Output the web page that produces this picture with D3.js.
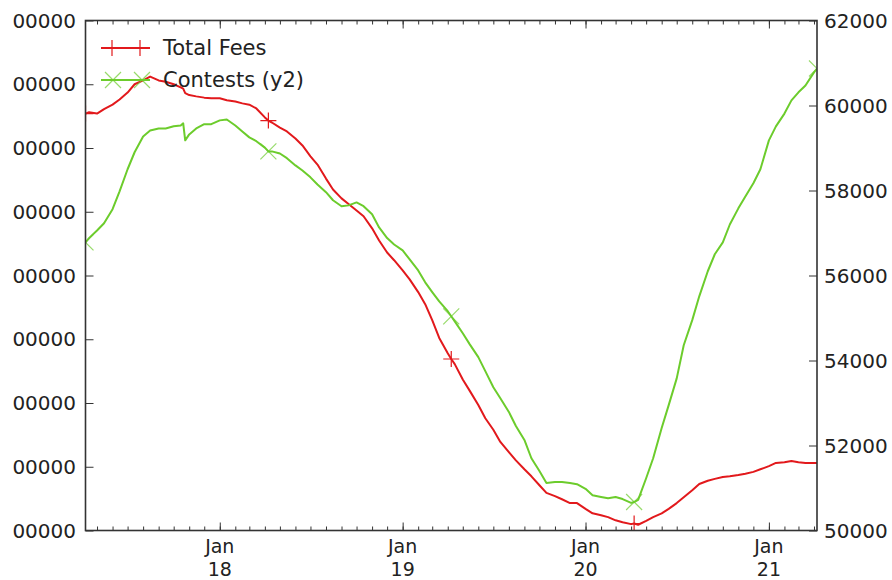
<!DOCTYPE html>
<html>
<head>
<meta charset="utf-8">
<script src="https://cdn.jsdelivr.net/npm/d3@7"></script>
<style>
  body { margin: 0; background: #fff; }
  text { font-family: "DejaVu Sans", sans-serif; fill: #222; }
</style>
</head>
<body>
<script>
// dates (semi-monthly readings, plus the marker dates)
var dates = [
  "2017-04-08","2017-04-15","2017-05-01","2017-05-15","2017-06-01","2017-06-15","2017-07-01","2017-07-15",
  "2017-08-01","2017-08-15","2017-09-01","2017-09-15","2017-10-01","2017-10-15","2017-10-20","2017-10-24",
  "2017-11-01","2017-11-15","2017-12-01","2017-12-15",
  "2018-01-01","2018-01-15","2018-02-01","2018-02-15","2018-03-01","2018-03-15","2018-04-01","2018-04-08",
  "2018-04-15","2018-05-01","2018-05-15","2018-06-01","2018-06-15","2018-07-01","2018-07-15","2018-08-01",
  "2018-08-15","2018-09-01","2018-09-15","2018-10-01","2018-10-15","2018-11-01","2018-11-15","2018-12-01","2018-12-15",
  "2019-01-01","2019-01-15","2019-02-01","2019-02-15","2019-03-01","2019-03-15","2019-04-01","2019-04-08",
  "2019-04-15","2019-05-01","2019-05-15","2019-06-01","2019-06-15","2019-07-01","2019-07-15","2019-08-01",
  "2019-08-15","2019-09-01","2019-09-15","2019-10-01","2019-10-15","2019-11-01","2019-11-15","2019-12-01","2019-12-15",
  "2020-01-01","2020-01-15","2020-02-01","2020-02-15","2020-03-01","2020-03-15","2020-04-01","2020-04-07",
  "2020-04-15","2020-05-01","2020-05-15","2020-06-01","2020-06-15","2020-07-01","2020-07-15","2020-08-01",
  "2020-08-15","2020-09-01","2020-09-15","2020-10-01","2020-10-15","2020-11-01","2020-11-15","2020-12-01","2020-12-15",
  "2021-01-01","2021-01-15","2021-02-01","2021-02-15","2021-03-01","2021-03-15","2021-04-01","2021-04-07"
];

// Total Fees (left axis units)
var totalFees = [
  6.54,6.56,6.54,6.61,6.68,6.76,6.87,7.00,7.06,7.12,7.06,7.04,7.00,6.95,6.93,6.86,6.83,6.81,6.79,6.78,
  6.78,6.75,6.73,6.70,6.68,6.62,6.48,6.43,6.40,6.32,6.26,6.15,6.04,5.87,5.74,5.52,5.35,5.21,5.12,5.02,4.93,4.74,4.55,4.36,4.24,
  4.08,3.94,3.74,3.55,3.30,3.02,2.78,2.69,2.61,2.37,2.19,1.97,1.76,1.58,1.39,1.23,1.10,0.96,0.85,0.71,0.59,0.54,0.49,0.43,0.43,
  0.34,0.27,0.24,0.21,0.16,0.13,0.10,0.11,0.09,0.15,0.21,0.27,0.34,0.43,0.52,0.63,0.73,0.78,0.81,0.84,0.85,0.87,0.89,0.92,0.96,
  1.01,1.06,1.07,1.09,1.07,1.06,1.06,1.06
];

// Contests (right axis)
var contests = [
  56780,56880,57060,57230,57560,57980,58500,58900,59270,59410,59460,59460,59510,59530,59580,59180,59320,59460,59560,59560,
  59650,59670,59530,59390,59250,59160,59010,58920,58920,58870,58760,58590,58470,58310,58140,57960,57770,57630,57650,57720,57630,57440,57130,56880,56730,
  56590,56380,56120,55840,55610,55390,55160,55040,54920,54640,54380,54080,53750,53370,53110,52790,52460,52130,51700,51400,51120,51140,51140,51120,51090,
  50980,50830,50790,50760,50790,50740,50650,50670,50720,51230,51700,52410,52950,53580,54360,54950,55510,56100,56500,56780,57200,57580,57860,58170,58500,
  59180,59510,59810,60120,60310,60470,60780,60870
];

var feeMarkerDates = ["2017-04-08","2018-04-08","2019-04-08","2020-04-07"];
var contestMarkerDates = ["2017-04-08","2018-04-08","2019-04-08","2020-04-07","2021-04-07"];

var leftTicks = [0,1,2,3,4,5,6,7,8];
var leftTickLabels = ["00000","00000","00000","00000","00000","00000","00000","00000","00000"];
var rightTicks = [50000,52000,54000,56000,58000,60000,62000];
var seriesNames = ["Total Fees","Contests (y2)"];

var W = 892, H = 580;
var plot = {left: 85.5, right: 817, top: 20.5, bottom: 530.5};
var red = "#e2191c", green = "#6ccc2c";

var parse = d3.timeParse("%Y-%m-%d");
var fmt = d3.timeFormat("%Y-%m-%d");
var fees = dates.map(function(d,i){ return {date: parse(d), v: totalFees[i]}; });
var cont = dates.map(function(d,i){ return {date: parse(d), v: contests[i]}; });

var x = d3.scaleTime()
    .domain([parse(dates[0]), parse(dates[dates.length-1])])
    .range([plot.left, plot.right]);
var yL = d3.scaleLinear().domain([0, 8]).range([plot.bottom, plot.top]);
var yR = d3.scaleLinear().domain([50000, 62000]).range([plot.bottom, plot.top]);

var svg = d3.select("body").append("svg")
    .attr("width", W).attr("height", H);

svg.append("clipPath").attr("id","clip")
  .append("rect")
    .attr("x", plot.left).attr("y", plot.top)
    .attr("width", plot.right - plot.left).attr("height", plot.bottom - plot.top);

var plotArea = svg.append("g").attr("clip-path","url(#clip)");

// lines
var lineL = d3.line().x(function(d){return x(d.date);}).y(function(d){return yL(d.v);});
var lineR = d3.line().x(function(d){return x(d.date);}).y(function(d){return yR(d.v);});

plotArea.append("path").datum(fees)
    .attr("d", lineL).attr("fill","none")
    .attr("stroke", red).attr("stroke-width", 2).attr("stroke-linejoin","round");

plotArea.append("path").datum(cont)
    .attr("d", lineR).attr("fill","none")
    .attr("stroke", green).attr("stroke-width", 2).attr("stroke-linejoin","round");

// markers
function plus(g, cx, cy, col){
  g.append("path").attr("d","M"+(cx-8)+","+cy+"H"+(cx+8)+"M"+cx+","+(cy-8)+"V"+(cy+8))
    .attr("stroke", col).attr("stroke-width",1.2).attr("fill","none");
}
function cross(g, cx, cy, col){
  g.append("path").attr("d","M"+(cx-8)+","+(cy-8)+"L"+(cx+8)+","+(cy+8)+"M"+(cx-8)+","+(cy+8)+"L"+(cx+8)+","+(cy-8))
    .attr("stroke", col).attr("stroke-width",1.2).attr("fill","none").attr("opacity",0.7);
}
fees.filter(function(d){ return feeMarkerDates.indexOf(fmt(d.date)) >= 0; })
  .forEach(function(d){ plus(plotArea, x(d.date), yL(d.v), red); });
cont.filter(function(d){ return contestMarkerDates.indexOf(fmt(d.date)) >= 0; })
  .forEach(function(d){ cross(plotArea, x(d.date), yR(d.v), green); });

// axes (ticks pointing in)
var years = d3.timeYear.range(x.domain()[0], x.domain()[1]);
var months = d3.timeMonth.range(x.domain()[0], x.domain()[1]);

function clean(g){ g.select(".domain").remove(); g.selectAll("line").attr("stroke","#333"); }

svg.append("g").attr("transform","translate(0,"+plot.bottom+")")
  .call(d3.axisBottom(x).tickValues(months).tickSize(-4).tickFormat("")).call(clean);
svg.append("g").attr("transform","translate(0,"+plot.bottom+")")
  .call(d3.axisBottom(x).tickValues(years).tickSize(-8).tickFormat("")).call(clean);
svg.append("g").attr("transform","translate(0,"+plot.top+")")
  .call(d3.axisTop(x).tickValues(months).tickSize(-4).tickFormat("")).call(clean);
svg.append("g").attr("transform","translate(0,"+plot.top+")")
  .call(d3.axisTop(x).tickValues(years).tickSize(-8).tickFormat("")).call(clean);
svg.append("g").attr("transform","translate("+plot.left+",0)")
  .call(d3.axisLeft(yL).tickValues(leftTicks).tickSize(-8).tickFormat("")).call(clean);
svg.append("g").attr("transform","translate("+plot.right+",0)")
  .call(d3.axisRight(yR).tickValues(rightTicks).tickSize(-8).tickFormat("")).call(clean);

// frame
svg.append("rect")
    .attr("x", plot.left).attr("y", plot.top)
    .attr("width", plot.right - plot.left).attr("height", plot.bottom - plot.top)
    .attr("fill","none").attr("stroke","#333").attr("stroke-width",1.6);

// tick labels
var fs = 20;
svg.selectAll(".xlab").data(years).enter().append("text")
    .attr("text-anchor","middle").style("font-size", "19px")
    .attr("x", function(d){return x(d);}).attr("y", 553)
    .text(d3.timeFormat("%b"));
svg.selectAll(".xlab2").data(years).enter().append("text")
    .attr("text-anchor","middle").style("font-size", "19px")
    .attr("x", function(d){return x(d);}).attr("y", 576)
    .text(d3.timeFormat("%y"));

svg.selectAll(".ylab").data(leftTicks).enter().append("text")
    .attr("text-anchor","end").style("font-size", fs+"px")
    .attr("x", 76).attr("y", function(d){return yL(d);}).attr("dy","0.36em")
    .text(function(d,i){return leftTickLabels[i];});

svg.selectAll(".y2lab").data(rightTicks).enter().append("text")
    .attr("text-anchor","start").style("font-size", fs+"px")
    .attr("x", 824).attr("y", function(d){return yR(d);}).attr("dy","0.36em")
    .text(function(d){return d3.format("d")(d);});

// legend
var lg = svg.append("g");
lg.append("line").attr("x1",101).attr("x2",150).attr("y1",48).attr("y2",48)
    .attr("stroke", red).attr("stroke-width",2);
plus(lg, 112, 48, red); plus(lg, 140, 48, red);
lg.append("line").attr("x1",101).attr("x2",150).attr("y1",80).attr("y2",80)
    .attr("stroke", green).attr("stroke-width",2);
cross(lg, 113, 80, green); cross(lg, 142, 80, green);
lg.selectAll("text").data(seriesNames).enter().append("text")
    .style("font-size","21px")
    .attr("x",163).attr("y",function(d,i){return 55 + i*32;})
    .text(function(d){return d;});
</script>
</body>
</html>
